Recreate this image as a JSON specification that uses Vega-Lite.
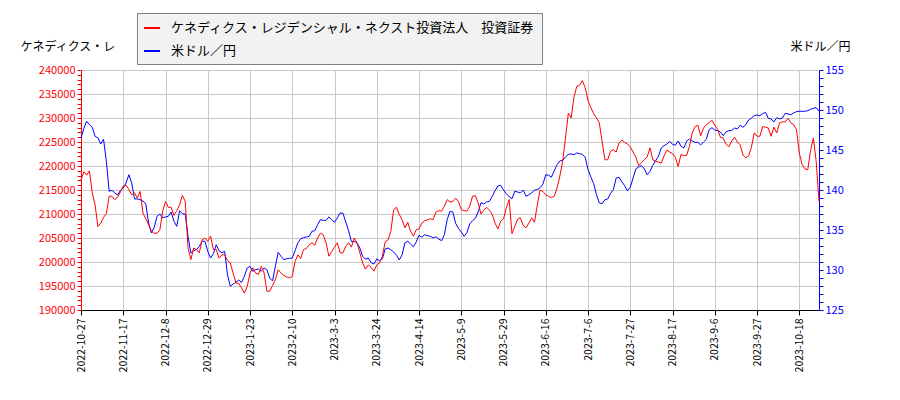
{
  "$schema": "https://vega.github.io/schema/vega-lite/v6.json",
  "description": "ケネディクス・レジデンシャル・ネクスト投資法人 投資証券 and USD/JPY, daily, dual axis",
  "width": 738,
  "height": 240,
  "autosize": {"type": "none"},
  "padding": {"left": 81, "top": 70, "right": 81, "bottom": 90},
  "background": "white",
  "config": {
    "view": {"stroke": null},
    "font": "Noto Sans CJK JP"
  },
  "data": {
    "values": [
      {"d": "2022-10-27", "p": 217100, "u": 146.5},
      {"d": "2022-10-28", "p": 218800, "u": 147.66},
      {"d": "2022-10-31", "p": 218100, "u": 148.59},
      {"d": "2022-11-1", "p": 219000, "u": 148.16},
      {"d": "2022-11-2", "p": 214400, "u": 147.84},
      {"d": "2022-11-3", "p": 211900, "u": 146.71},
      {"d": "2022-11-4", "p": 207400, "u": 146.54},
      {"d": "2022-11-7", "p": 208100, "u": 145.75},
      {"d": "2022-11-8", "p": 209300, "u": 146.34},
      {"d": "2022-11-9", "p": 210100, "u": 143.59},
      {"d": "2022-11-10", "p": 213700, "u": 139.84},
      {"d": "2022-11-11", "p": 213700, "u": 139.96},
      {"d": "2022-11-14", "p": 213000, "u": 139.63},
      {"d": "2022-11-15", "p": 213500, "u": 139.38},
      {"d": "2022-11-16", "p": 214600, "u": 139.96},
      {"d": "2022-11-17", "p": 215800, "u": 140.25},
      {"d": "2022-11-18", "p": 216000, "u": 140.88},
      {"d": "2022-11-21", "p": 215100, "u": 141.91},
      {"d": "2022-11-22", "p": 214000, "u": 140.88},
      {"d": "2022-11-23", "p": 214400, "u": 138.88},
      {"d": "2022-11-24", "p": 213300, "u": 138.88},
      {"d": "2022-11-25", "p": 214700, "u": 138.79},
      {"d": "2022-11-28", "p": 210200, "u": 138.63},
      {"d": "2022-11-29", "p": 209000, "u": 138.25},
      {"d": "2022-11-30", "p": 207800, "u": 135.88},
      {"d": "2022-12-1", "p": 206400, "u": 134.63},
      {"d": "2022-12-2", "p": 206000, "u": 135.34},
      {"d": "2022-12-5", "p": 206000, "u": 136.71},
      {"d": "2022-12-6", "p": 206700, "u": 137.0},
      {"d": "2022-12-7", "p": 210600, "u": 136.54},
      {"d": "2022-12-8", "p": 212600, "u": 136.63},
      {"d": "2022-12-9", "p": 211400, "u": 136.71},
      {"d": "2022-12-12", "p": 211400, "u": 137.25},
      {"d": "2022-12-13", "p": 209700, "u": 136.09},
      {"d": "2022-12-14", "p": 210700, "u": 135.46},
      {"d": "2022-12-15", "p": 211900, "u": 137.41},
      {"d": "2022-12-16", "p": 213900, "u": 137.04},
      {"d": "2022-12-19", "p": 212600, "u": 137.0},
      {"d": "2022-12-20", "p": 202900, "u": 134.21},
      {"d": "2022-12-21", "p": 200500, "u": 132.13},
      {"d": "2022-12-22", "p": 202900, "u": 132.41},
      {"d": "2022-12-23", "p": 202600, "u": 132.54},
      {"d": "2022-12-26", "p": 201900, "u": 132.96},
      {"d": "2022-12-27", "p": 204600, "u": 133.59},
      {"d": "2022-12-28", "p": 205000, "u": 133.59},
      {"d": "2022-12-29", "p": 204300, "u": 132.34},
      {"d": "2022-12-30", "p": 205400, "u": 131.5},
      {"d": "2023-1-4", "p": 202600, "u": 132.04},
      {"d": "2023-1-5", "p": 202600, "u": 133.16},
      {"d": "2023-1-6", "p": 200800, "u": 132.41},
      {"d": "2023-1-9", "p": 201500, "u": 132.16},
      {"d": "2023-1-10", "p": 201500, "u": 132.34},
      {"d": "2023-1-11", "p": 200300, "u": 129.41},
      {"d": "2023-1-12", "p": 199800, "u": 127.96},
      {"d": "2023-1-13", "p": 197700, "u": 128.25},
      {"d": "2023-1-16", "p": 195600, "u": 128.46},
      {"d": "2023-1-17", "p": 195600, "u": 128.75},
      {"d": "2023-1-18", "p": 194600, "u": 128.46},
      {"d": "2023-1-19", "p": 193500, "u": 129.21},
      {"d": "2023-1-20", "p": 194900, "u": 130.25},
      {"d": "2023-1-23", "p": 197700, "u": 130.46},
      {"d": "2023-1-24", "p": 198800, "u": 129.84},
      {"d": "2023-1-25", "p": 197700, "u": 130.04},
      {"d": "2023-1-26", "p": 197400, "u": 130.13},
      {"d": "2023-1-27", "p": 199100, "u": 129.84},
      {"d": "2023-1-28", "p": 197700, "u": 130.25},
      {"d": "2023-1-30", "p": 193900, "u": 130.04},
      {"d": "2023-1-31", "p": 193900, "u": 129.0},
      {"d": "2023-2-1", "p": 195100, "u": 128.63},
      {"d": "2023-2-2", "p": 196300, "u": 130.46},
      {"d": "2023-2-3", "p": 198400, "u": 132.21},
      {"d": "2023-2-6", "p": 197700, "u": 131.71},
      {"d": "2023-2-7", "p": 197200, "u": 131.29},
      {"d": "2023-2-8", "p": 196900, "u": 131.41},
      {"d": "2023-2-9", "p": 196700, "u": 131.46},
      {"d": "2023-2-10", "p": 197000, "u": 131.5},
      {"d": "2023-2-13", "p": 200100, "u": 132.41},
      {"d": "2023-2-14", "p": 201500, "u": 133.41},
      {"d": "2023-2-15", "p": 200700, "u": 133.91},
      {"d": "2023-2-16", "p": 202600, "u": 134.04},
      {"d": "2023-2-17", "p": 202800, "u": 134.13},
      {"d": "2023-2-20", "p": 203600, "u": 134.21},
      {"d": "2023-2-21", "p": 204000, "u": 134.84},
      {"d": "2023-2-22", "p": 203500, "u": 134.91},
      {"d": "2023-2-23", "p": 205000, "u": 135.66},
      {"d": "2023-2-24", "p": 206000, "u": 136.29},
      {"d": "2023-2-27", "p": 205700, "u": 136.21},
      {"d": "2023-2-28", "p": 204000, "u": 136.21},
      {"d": "2023-3-1", "p": 201200, "u": 136.63},
      {"d": "2023-3-2", "p": 202200, "u": 136.29},
      {"d": "2023-3-3", "p": 203100, "u": 135.96},
      {"d": "2023-3-6", "p": 204000, "u": 136.5},
      {"d": "2023-3-7", "p": 201900, "u": 137.13},
      {"d": "2023-3-8", "p": 201900, "u": 137.09},
      {"d": "2023-3-9", "p": 203300, "u": 136.0},
      {"d": "2023-3-10", "p": 204000, "u": 134.91},
      {"d": "2023-3-13", "p": 203100, "u": 133.54},
      {"d": "2023-3-14", "p": 205000, "u": 133.59},
      {"d": "2023-3-15", "p": 204000, "u": 133.38},
      {"d": "2023-3-16", "p": 201900, "u": 132.75},
      {"d": "2023-3-17", "p": 199800, "u": 131.71},
      {"d": "2023-3-20", "p": 198500, "u": 131.34},
      {"d": "2023-3-21", "p": 199400, "u": 131.5},
      {"d": "2023-3-22", "p": 198900, "u": 130.91},
      {"d": "2023-3-23", "p": 198100, "u": 130.75},
      {"d": "2023-3-24", "p": 199400, "u": 131.38},
      {"d": "2023-3-27", "p": 199800, "u": 131.16},
      {"d": "2023-3-28", "p": 201200, "u": 131.41},
      {"d": "2023-3-29", "p": 204200, "u": 132.63},
      {"d": "2023-3-30", "p": 204600, "u": 132.75},
      {"d": "2023-3-31", "p": 206400, "u": 132.54},
      {"d": "2023-4-3", "p": 210900, "u": 132.25},
      {"d": "2023-4-4", "p": 211400, "u": 131.84},
      {"d": "2023-4-5", "p": 209900, "u": 131.25},
      {"d": "2023-4-6", "p": 208800, "u": 131.91},
      {"d": "2023-4-7", "p": 207100, "u": 133.41},
      {"d": "2023-4-10", "p": 208300, "u": 133.59},
      {"d": "2023-4-11", "p": 206400, "u": 133.25},
      {"d": "2023-4-12", "p": 205400, "u": 132.91},
      {"d": "2023-4-13", "p": 206700, "u": 133.5},
      {"d": "2023-4-14", "p": 206900, "u": 134.34},
      {"d": "2023-4-17", "p": 208100, "u": 134.09},
      {"d": "2023-4-18", "p": 208600, "u": 134.41},
      {"d": "2023-4-19", "p": 208800, "u": 134.29},
      {"d": "2023-4-20", "p": 209000, "u": 134.21},
      {"d": "2023-4-21", "p": 208800, "u": 134.0},
      {"d": "2023-4-24", "p": 210400, "u": 134.16},
      {"d": "2023-4-25", "p": 210700, "u": 133.88},
      {"d": "2023-4-26", "p": 210600, "u": 133.66},
      {"d": "2023-4-27", "p": 211600, "u": 134.41},
      {"d": "2023-4-28", "p": 213000, "u": 136.29},
      {"d": "2023-5-1", "p": 212500, "u": 137.34},
      {"d": "2023-5-2", "p": 212600, "u": 137.25},
      {"d": "2023-5-3", "p": 213300, "u": 135.84},
      {"d": "2023-5-8", "p": 212600, "u": 135.21},
      {"d": "2023-5-9", "p": 210900, "u": 134.75},
      {"d": "2023-5-10", "p": 210700, "u": 134.21},
      {"d": "2023-5-11", "p": 210600, "u": 134.66},
      {"d": "2023-5-12", "p": 211600, "u": 135.75},
      {"d": "2023-5-13", "p": 213700, "u": 136.16},
      {"d": "2023-5-15", "p": 213800, "u": 136.46},
      {"d": "2023-5-16", "p": 212300, "u": 137.25},
      {"d": "2023-5-17", "p": 210000, "u": 138.41},
      {"d": "2023-5-18", "p": 210800, "u": 138.25},
      {"d": "2023-5-19", "p": 211400, "u": 138.5},
      {"d": "2023-5-22", "p": 210800, "u": 138.59},
      {"d": "2023-5-23", "p": 209900, "u": 139.21},
      {"d": "2023-5-24", "p": 208100, "u": 139.91},
      {"d": "2023-5-25", "p": 206900, "u": 140.5},
      {"d": "2023-5-26", "p": 208500, "u": 140.59},
      {"d": "2023-5-29", "p": 209000, "u": 140.0},
      {"d": "2023-5-30", "p": 211300, "u": 139.54},
      {"d": "2023-5-31", "p": 213000, "u": 139.16},
      {"d": "2023-6-1", "p": 205900, "u": 138.91},
      {"d": "2023-6-2", "p": 207400, "u": 139.84},
      {"d": "2023-6-3", "p": 208900, "u": 139.75},
      {"d": "2023-6-5", "p": 209200, "u": 139.63},
      {"d": "2023-6-6", "p": 207600, "u": 140.0},
      {"d": "2023-6-7", "p": 207100, "u": 139.21},
      {"d": "2023-6-8", "p": 208100, "u": 139.41},
      {"d": "2023-6-9", "p": 209200, "u": 139.63},
      {"d": "2023-6-12", "p": 208300, "u": 140.0},
      {"d": "2023-6-13", "p": 211900, "u": 140.04},
      {"d": "2023-6-14", "p": 215000, "u": 140.29},
      {"d": "2023-6-15", "p": 214700, "u": 140.75},
      {"d": "2023-6-16", "p": 214000, "u": 141.91},
      {"d": "2023-6-19", "p": 213700, "u": 141.84},
      {"d": "2023-6-20", "p": 213400, "u": 141.59},
      {"d": "2023-6-21", "p": 213700, "u": 142.38},
      {"d": "2023-6-22", "p": 215400, "u": 143.16},
      {"d": "2023-6-23", "p": 217900, "u": 143.63},
      {"d": "2023-6-26", "p": 221000, "u": 143.71},
      {"d": "2023-6-27", "p": 225800, "u": 144.13},
      {"d": "2023-6-28", "p": 231000, "u": 144.46},
      {"d": "2023-6-29", "p": 230000, "u": 144.5},
      {"d": "2023-6-30", "p": 234300, "u": 144.41},
      {"d": "2023-7-1", "p": 236600, "u": 144.63},
      {"d": "2023-7-3", "p": 236800, "u": 144.54},
      {"d": "2023-7-4", "p": 237800, "u": 144.46},
      {"d": "2023-7-5", "p": 236300, "u": 144.09},
      {"d": "2023-7-6", "p": 233600, "u": 142.54},
      {"d": "2023-7-7", "p": 232200, "u": 141.63},
      {"d": "2023-7-10", "p": 230900, "u": 140.79},
      {"d": "2023-7-11", "p": 230000, "u": 139.41},
      {"d": "2023-7-12", "p": 229000, "u": 138.38},
      {"d": "2023-7-13", "p": 225100, "u": 138.29},
      {"d": "2023-7-14", "p": 221300, "u": 138.79},
      {"d": "2023-7-17", "p": 221300, "u": 138.88},
      {"d": "2023-7-18", "p": 223100, "u": 139.59},
      {"d": "2023-7-19", "p": 223400, "u": 140.04},
      {"d": "2023-7-20", "p": 222900, "u": 141.5},
      {"d": "2023-7-21", "p": 224800, "u": 141.59},
      {"d": "2023-7-24", "p": 225400, "u": 141.04},
      {"d": "2023-7-25", "p": 224900, "u": 140.54},
      {"d": "2023-7-26", "p": 224600, "u": 139.91},
      {"d": "2023-7-27", "p": 224000, "u": 140.34},
      {"d": "2023-7-28", "p": 222900, "u": 141.5},
      {"d": "2023-7-31", "p": 221800, "u": 142.66},
      {"d": "2023-8-1", "p": 220100, "u": 142.88},
      {"d": "2023-8-2", "p": 220700, "u": 143.04},
      {"d": "2023-8-3", "p": 221300, "u": 142.63},
      {"d": "2023-8-4", "p": 221900, "u": 141.91},
      {"d": "2023-8-7", "p": 223800, "u": 142.34},
      {"d": "2023-8-8", "p": 221300, "u": 143.09},
      {"d": "2023-8-9", "p": 221000, "u": 143.66},
      {"d": "2023-8-10", "p": 220800, "u": 144.21},
      {"d": "2023-8-11", "p": 220600, "u": 145.25},
      {"d": "2023-8-14", "p": 222100, "u": 145.54},
      {"d": "2023-8-15", "p": 223300, "u": 145.75},
      {"d": "2023-8-16", "p": 222900, "u": 146.09},
      {"d": "2023-8-17", "p": 222600, "u": 145.71},
      {"d": "2023-8-18", "p": 221800, "u": 145.59},
      {"d": "2023-8-21", "p": 219900, "u": 146.13},
      {"d": "2023-8-22", "p": 222400, "u": 145.46},
      {"d": "2023-8-23", "p": 222200, "u": 145.25},
      {"d": "2023-8-24", "p": 222200, "u": 146.09},
      {"d": "2023-8-25", "p": 224100, "u": 146.38},
      {"d": "2023-8-26", "p": 226900, "u": 146.13},
      {"d": "2023-8-28", "p": 228200, "u": 145.96},
      {"d": "2023-8-29", "p": 228500, "u": 145.96},
      {"d": "2023-8-30", "p": 226300, "u": 145.63},
      {"d": "2023-8-31", "p": 227900, "u": 146.0},
      {"d": "2023-9-1", "p": 228600, "u": 146.34},
      {"d": "2023-9-4", "p": 229000, "u": 147.54},
      {"d": "2023-9-5", "p": 229500, "u": 147.79},
      {"d": "2023-9-6", "p": 228500, "u": 147.5},
      {"d": "2023-9-7", "p": 227600, "u": 147.41},
      {"d": "2023-9-8", "p": 226000, "u": 147.25},
      {"d": "2023-9-11", "p": 225800, "u": 146.79},
      {"d": "2023-9-12", "p": 224600, "u": 147.25},
      {"d": "2023-9-13", "p": 224000, "u": 147.41},
      {"d": "2023-9-14", "p": 225200, "u": 147.46},
      {"d": "2023-9-15", "p": 226000, "u": 147.75},
      {"d": "2023-9-18", "p": 225000, "u": 147.63},
      {"d": "2023-9-19", "p": 224400, "u": 148.09},
      {"d": "2023-9-20", "p": 222300, "u": 147.84},
      {"d": "2023-9-21", "p": 221700, "u": 148.16},
      {"d": "2023-9-22", "p": 222100, "u": 148.75},
      {"d": "2023-9-25", "p": 223900, "u": 149.0},
      {"d": "2023-9-26", "p": 226900, "u": 149.29},
      {"d": "2023-9-27", "p": 226200, "u": 149.38},
      {"d": "2023-9-28", "p": 226200, "u": 149.29},
      {"d": "2023-9-29", "p": 228200, "u": 149.54},
      {"d": "2023-10-2", "p": 228100, "u": 149.71},
      {"d": "2023-10-3", "p": 227900, "u": 148.96},
      {"d": "2023-10-4", "p": 226200, "u": 148.88},
      {"d": "2023-10-5", "p": 228100, "u": 148.5},
      {"d": "2023-10-6", "p": 226900, "u": 149.04},
      {"d": "2023-10-9", "p": 229000, "u": 148.88},
      {"d": "2023-10-10", "p": 229200, "u": 149.0},
      {"d": "2023-10-11", "p": 229200, "u": 149.59},
      {"d": "2023-10-12", "p": 229900, "u": 149.5},
      {"d": "2023-10-13", "p": 229000, "u": 149.41},
      {"d": "2023-10-16", "p": 228600, "u": 149.63},
      {"d": "2023-10-17", "p": 227600, "u": 149.79},
      {"d": "2023-10-18", "p": 222700, "u": 149.84},
      {"d": "2023-10-19", "p": 220300, "u": 149.84},
      {"d": "2023-10-20", "p": 219400, "u": 149.84},
      {"d": "2023-10-23", "p": 219200, "u": 149.91},
      {"d": "2023-10-24", "p": 223200, "u": 150.09},
      {"d": "2023-10-25", "p": 225800, "u": 150.21},
      {"d": "2023-10-26", "p": 221000, "u": 150.29},
      {"d": "2023-10-27", "p": 212600, "u": 149.84}
    ]
  },
  "encoding": {
    "x": {
      "field": "d",
      "type": "ordinal",
      "sort": null,
      "scale": {"type": "point", "padding": 0},
      "axis": {
        "title": null,
        "values": ["2022-10-27", "2022-11-17", "2022-12-8", "2022-12-29", "2023-1-23", "2023-2-10", "2023-3-3", "2023-3-24", "2023-4-14", "2023-5-9", "2023-5-29", "2023-6-16", "2023-7-6", "2023-7-27", "2023-8-17", "2023-9-6", "2023-9-27", "2023-10-18"],
        "labelAngle": -90,
        "labelAlign": "right",
        "labelBaseline": "middle",
        "labelFontSize": 10.5,
        "labelColor": "black",
        "labelPadding": 3,
        "labelOverlap": false,
        "domainColor": "black",
        "tickColor": "black",
        "tickSize": 5,
        "grid": true,
        "gridColor": "#c8c8c8",
        "gridWidth": 1
      }
    }
  },
  "layer": [
    {
      "mark": {"type": "line", "strokeWidth": 1},
      "encoding": {
        "y": {
          "field": "u",
          "type": "quantitative",
          "scale": {"domain": [125, 155], "nice": false, "zero": false},
          "axis": {
            "orient": "right",
            "title": "米ドル／円",
            "titleAngle": 0,
            "titleAlign": "right",
            "titleBaseline": "middle",
            "titleX": 31,
            "titleY": -24,
            "titleFontSize": 12,
            "titleFontWeight": "normal",
            "titleColor": "black",
            "values": [125, 126, 127, 128, 129, 130, 131, 132, 133, 134, 135, 136, 137, 138, 139, 140, 141, 142, 143, 144, 145, 146, 147, 148, 149, 150, 151, 152, 153, 154, 155],
            "labelExpr": "datum.value % 5 === 0 ? datum.label : ''",
            "labelOverlap": false,
            "labelFlush": false,
            "labelFontSize": 11,
            "labelColor": "#0000ff",
            "labelPadding": 2,
            "domainColor": "#0000ff",
            "tickColor": "#0000ff",
            "tickSize": 4,
            "grid": false
          }
        },
        "color": {"datum": "米ドル／円", "type": "nominal"}
      }
    },
    {
      "mark": {"type": "line", "strokeWidth": 1},
      "encoding": {
        "y": {
          "field": "p",
          "type": "quantitative",
          "scale": {"domain": [190000, 240000], "nice": false, "zero": false},
          "axis": {
            "orient": "left",
            "title": "ケネディクス・レ",
            "titleAngle": 0,
            "titleAlign": "left",
            "titleBaseline": "middle",
            "titleX": -61,
            "titleY": -24,
            "titleFontSize": 12,
            "titleFontWeight": "normal",
            "titleColor": "black",
            "values": [190000, 191000, 192000, 193000, 194000, 195000, 196000, 197000, 198000, 199000, 200000, 201000, 202000, 203000, 204000, 205000, 206000, 207000, 208000, 209000, 210000, 211000, 212000, 213000, 214000, 215000, 216000, 217000, 218000, 219000, 220000, 221000, 222000, 223000, 224000, 225000, 226000, 227000, 228000, 229000, 230000, 231000, 232000, 233000, 234000, 235000, 236000, 237000, 238000, 239000, 240000],
            "format": "d",
            "labelExpr": "datum.value % 5000 === 0 ? datum.label : ''",
            "labelOverlap": false,
            "labelFlush": false,
            "labelFontSize": 11,
            "labelColor": "#ff0000",
            "labelPadding": 2,
            "domainColor": "#ff0000",
            "tickColor": "#ff0000",
            "tickSize": 4,
            "grid": true,
            "gridColor": "#c8c8c8",
            "gridOpacity": {"condition": {"test": "datum.value % 5000 === 0", "value": 1}, "value": 0}
          }
        },
        "color": {
          "datum": "ケネディクス・レジデンシャル・ネクスト投資法人　投資証券",
          "type": "nominal",
          "scale": {
            "domain": ["ケネディクス・レジデンシャル・ネクスト投資法人　投資証券", "米ドル／円"],
            "range": ["#ff0000", "#0000ff"]
          },
          "legend": {
            "title": null,
            "orient": "none",
            "legendX": 56,
            "legendY": -57,
            "direction": "vertical",
            "symbolType": "stroke",
            "symbolSize": 256,
            "symbolStrokeWidth": 2,
            "labelFontSize": 13,
            "labelColor": "black",
            "labelLimit": 0,
            "labelOffset": 10,
            "rowPadding": 7,
            "padding": 6,
            "fillColor": "#f2f2f2",
            "strokeColor": "#808080"
          }
        }
      }
    }
  ],
  "resolve": {"scale": {"y": "independent"}}
}
